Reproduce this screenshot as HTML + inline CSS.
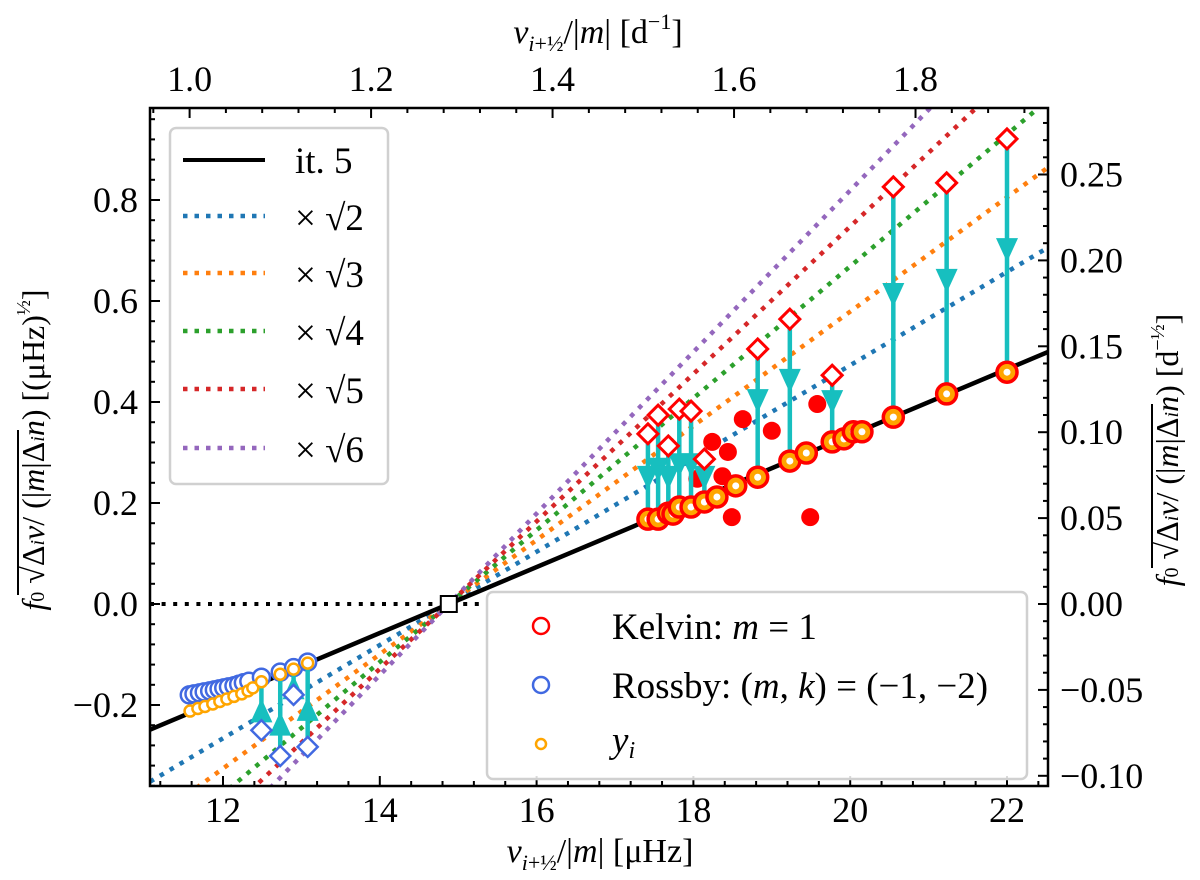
<!DOCTYPE html>
<html><head><meta charset="utf-8"><style>
html,body{margin:0;padding:0;background:#fff}
svg{display:block;font-family:"Liberation Serif",serif}
</style></head><body>
<svg id="chart" width="1200" height="880" viewBox="0 0 1200 880" xmlns="http://www.w3.org/2000/svg">
<defs><clipPath id="plotclip"><rect x="150" y="108" width="898" height="678"/></clipPath></defs>
<g id="marks" clip-path="url(#plotclip)"></g>
<g id="axes"></g>
<text x="600" y="862" font-size="34" text-anchor="middle" font-family="Liberation Serif"><tspan font-style="italic">ν</tspan><tspan font-size="22" dy="8" font-style="italic">i</tspan><tspan font-size="22">+½</tspan><tspan dy="-8">/|</tspan><tspan font-style="italic">m</tspan><tspan>| [μHz]</tspan></text>
<text x="598" y="43" font-size="34" text-anchor="middle" font-family="Liberation Serif"><tspan font-style="italic">ν</tspan><tspan font-size="22" dy="8" font-style="italic">i</tspan><tspan font-size="22">+½</tspan><tspan dy="-8">/|</tspan><tspan font-style="italic">m</tspan><tspan>| [d</tspan><tspan font-size="22" dy="-14">−1</tspan><tspan dy="14">]</tspan></text>
<g transform="translate(44,450) rotate(-90)">
<text x="0" y="0" font-size="32" text-anchor="middle" font-family="Liberation Serif"><tspan font-style="italic">f</tspan><tspan font-size="20">0</tspan><tspan> √Δ</tspan><tspan font-size="20" font-style="italic">i</tspan><tspan font-style="italic">ν</tspan><tspan>/ (|</tspan><tspan font-style="italic">m</tspan><tspan>|Δ</tspan><tspan font-size="20" font-style="italic">i</tspan><tspan font-style="italic">n</tspan><tspan>) [(μHz)</tspan><tspan font-size="20" dy="-14">½</tspan><tspan dy="14">]</tspan></text>
<line x1="-145" y1="-26" x2="20" y2="-26" stroke="#000" stroke-width="2"/>
</g>
<g transform="translate(1178,450) rotate(-90)">
<text x="0" y="0" font-size="32" text-anchor="middle" font-family="Liberation Serif"><tspan font-style="italic">f</tspan><tspan font-size="20">0</tspan><tspan> √Δ</tspan><tspan font-size="20" font-style="italic">i</tspan><tspan font-style="italic">ν</tspan><tspan>/ (|</tspan><tspan font-style="italic">m</tspan><tspan>|Δ</tspan><tspan font-size="20" font-style="italic">i</tspan><tspan font-style="italic">n</tspan><tspan>) [d</tspan><tspan font-size="20" dy="-14">−½</tspan><tspan dy="14">]</tspan></text>
<line x1="-118" y1="-26" x2="46" y2="-26" stroke="#000" stroke-width="2"/>
</g>
<g font-family="Liberation Serif" font-size="37">
<rect x="170" y="128" width="218" height="356" rx="6" fill="#fff" fill-opacity="0.85" stroke="#d0d0d0" stroke-width="2.5"/>
<g><line x1="183" y1="160" x2="265" y2="160" stroke="#000" stroke-width="4"/><text x="295" y="173">it. 5</text></g>
<g><line x1="183" y1="216" x2="265" y2="216" stroke="#1f77b4" stroke-width="4.5" stroke-dasharray="4.5 7"/><text x="295" y="230">× √2</text></g>
<g><line x1="183" y1="273" x2="265" y2="273" stroke="#ff7f0e" stroke-width="4.5" stroke-dasharray="4.5 7"/><text x="295" y="287">× √3</text></g>
<g><line x1="183" y1="331" x2="265" y2="331" stroke="#2ca02c" stroke-width="4.5" stroke-dasharray="4.5 7"/><text x="295" y="345">× √4</text></g>
<g><line x1="183" y1="389" x2="265" y2="389" stroke="#d62728" stroke-width="4.5" stroke-dasharray="4.5 7"/><text x="295" y="403">× √5</text></g>
<g><line x1="183" y1="448" x2="265" y2="448" stroke="#9467bd" stroke-width="4.5" stroke-dasharray="4.5 7"/><text x="295" y="462">× √6</text></g>
</g>
<g font-family="Liberation Serif" font-size="37">
<rect x="487" y="592" width="540" height="187" rx="6" fill="#fff" fill-opacity="0.85" stroke="#d0d0d0" stroke-width="2.5"/>
<g><circle cx="541" cy="626" r="8" fill="#fff" stroke="#ff0000" stroke-width="2.5"/><text x="612" y="639">Kelvin: <tspan font-style="italic">m</tspan> = 1</text></g>
<g><circle cx="541" cy="685" r="8" fill="#fff" stroke="#4169e1" stroke-width="2.5"/><text x="612" y="698">Rossby: (<tspan font-style="italic">m</tspan>, <tspan font-style="italic">k</tspan>) = (−1, −2)</text></g>
<g><circle cx="541" cy="744" r="5" fill="#fff" stroke="#ffa500" stroke-width="2.5"/><text x="612" y="752" font-style="italic">y<tspan font-size="24" dy="6">i</tspan></text></g>
</g>
</svg>
<script>
const lineSlope = 0.0653;
const pivotX = 14.88;
const scaleFactors = [2, 3, 4, 5, 6];
const scaleColors = ["#1f77b4", "#ff7f0e", "#2ca02c", "#d62728", "#9467bd"];
const kelvinX = [17.42,17.55,17.68,17.74,17.82,17.97,18.14,18.30,18.54,18.82,19.23,19.44,19.77,19.92,20.04,20.15,20.55,21.23,22.00];
const kelvinY = [0.168,0.168,0.180,0.178,0.192,0.192,0.202,0.212,0.234,0.251,0.283,0.299,0.321,0.327,0.341,0.341,0.370,0.416,0.459];
const kArrowX = [17.42,17.55,17.68,17.82,17.97,18.14,18.82,19.23,19.77,20.55,21.23,22.00];
const kArrowBase = [0.168,0.168,0.180,0.192,0.192,0.202,0.251,0.283,0.321,0.370,0.416,0.459];
const kDiamondY = [0.337,0.374,0.313,0.386,0.382,0.287,0.505,0.564,0.453,0.826,0.834,0.921];
const kArrowTip = [0.226,0.242,0.226,0.251,0.251,0.226,0.378,0.418,0.376,0.588,0.616,0.677];
const filledX = [18.63,19.00,18.24,18.44,18.05,18.37,18.49,19.49,19.58];
const filledY = [0.366,0.343,0.321,0.301,0.248,0.253,0.172,0.172,0.396];
const rossbyX = [11.57,11.63,11.70,11.76,11.83,11.89,11.95,12.01,12.07,12.14,12.20,12.26,12.33,12.49,12.73,12.90,13.08];
const rossbyY = [-0.180,-0.178,-0.176,-0.174,-0.172,-0.170,-0.168,-0.166,-0.164,-0.162,-0.159,-0.156,-0.153,-0.145,-0.135,-0.126,-0.115];
const yiLeftX = [11.58,11.68,11.77,11.87,11.96,12.05,12.14,12.24,12.32,12.38,12.49,12.73,12.90,13.08];
const yiLeftY = [-0.212,-0.207,-0.203,-0.198,-0.193,-0.188,-0.183,-0.178,-0.172,-0.166,-0.154,-0.139,-0.129,-0.117];
const rArrowX = [12.49,12.73,12.90,13.08];
const rArrowBase = [-0.154,-0.139,-0.129,-0.117];
const rDiamondY = [-0.250,-0.301,-0.180,-0.283];
const rArrowTip = [-0.187,-0.213,-0.141,-0.184];
const bottomTicks = [12,14,16,18,20,22];
const topTicks = ["1.0","1.2","1.4","1.6","1.8"];
const leftTicks = ["−0.2","0.0","0.2","0.4","0.6","0.8"];
const rightTicks = ["−0.10","−0.05","0.00","0.05","0.10","0.15","0.20","0.25"];

const X0=150,X1=1048,Y0=108,Y1=786;
const X = v => 223 + (v-12)*78.4;
const Y = v => 604 - v*505;
const DAY = 11.574, RT = 3.402;
const NS="http://www.w3.org/2000/svg";
function mk(parent, tag, attrs){const e=document.createElementNS(NS,tag);for(const k in attrs)e.setAttribute(k,attrs[k]);parent.appendChild(e);return e;}
const marks=document.getElementById('marks');
const axes=document.getElementById('axes');
const xmin=(X0-223)/78.4+12, xmax=(X1-223)/78.4+12;

let z=mk(marks,'line',{x1:X0,y1:Y(0),x2:X(15.35),y2:Y(0),stroke:'#000','stroke-width':4,'stroke-dasharray':'4 7.6'});



scaleFactors.forEach((k,i)=>{
  const s=Math.sqrt(k)*lineSlope;
  const l=mk(marks,'line',{x1:X(xmin),y1:Y(s*(xmin-pivotX)),x2:X(xmax),y2:Y(s*(xmax-pivotX)),stroke:scaleColors[i],'stroke-width':4.5,'stroke-dasharray':'4.5 7'});
  
  
});
const bl=mk(marks,'line',{x1:X(xmin),y1:Y(lineSlope*(xmin-pivotX)),x2:X(xmax),y2:Y(lineSlope*(xmax-pivotX)),stroke:'#000','stroke-width':4.5});



function arrow(x,base,tip,top,up){
  const g=mk(marks,'g',{});
  
  
  mk(g,'line',{x1:X(x),y1:Y(base),x2:X(x),y2:Y(top),stroke:'#17bfbf','stroke-width':4.5});
  const px=X(x),ty=Y(tip),h=up?24:-24;
  mk(g,'polygon',{points:`${px},${ty} ${px-11},${ty+h} ${px+11},${ty+h}`,fill:'#17bfbf'});
}
filledX.forEach((x,i)=>{const c=mk(marks,'circle',{cx:X(x),cy:Y(filledY[i]),r:9,fill:'#ff0000'});
  
  });
kArrowX.forEach((x,i)=>arrow(x,kArrowBase[i],kArrowTip[i],kDiamondY[i],false));
kArrowX.forEach((x,i)=>{const px=X(x),py=Y(kDiamondY[i]);
  const d=mk(marks,'polygon',{points:`${px},${py-10} ${px+10},${py} ${px},${py+10} ${px-10},${py}`,fill:'#fff',stroke:'#ff0000','stroke-width':3});
  
  });
kelvinX.forEach((x,i)=>{const g=mk(marks,'g',{});
  
  
  mk(g,'circle',{cx:X(x),cy:Y(kelvinY[i]),r:10,fill:'#ffa500',stroke:'#ff0000','stroke-width':3.5});
  mk(g,'circle',{cx:X(x),cy:Y(kelvinY[i]),r:3.5,fill:'#fff'});});
rossbyX.forEach((x,i)=>{const c=mk(marks,'circle',{cx:X(x),cy:Y(rossbyY[i]),r:8.5,fill:'#fff',stroke:'#4169e1','stroke-width':2.5});
  
  });
rArrowX.forEach((x,i)=>arrow(x,rArrowBase[i],rArrowTip[i],rDiamondY[i],true));
rArrowX.forEach((x,i)=>{const px=X(x),py=Y(rDiamondY[i]);
  const d=mk(marks,'polygon',{points:`${px},${py-10} ${px+10},${py} ${px},${py+10} ${px-10},${py}`,fill:'#fff',stroke:'#4169e1','stroke-width':2.5});
  
  });
yiLeftX.forEach((x,i)=>{const c=mk(marks,'circle',{cx:X(x),cy:Y(yiLeftY[i]),r:5.5,fill:'#fff',stroke:'#ffa500','stroke-width':2.5});
  
  });
const sq=mk(marks,'rect',{x:X(pivotX)-8,y:Y(0)-8,width:16,height:16,fill:'#fff',stroke:'#000','stroke-width':2});



function tk(x1,y1,x2,y2){mk(axes,'line',{x1,y1,x2,y2,stroke:'#000','stroke-width':2});}
function label(txt,x,y,anchor,name){const t=mk(axes,'text',{x,y,'font-size':36,'text-anchor':anchor,fill:'#000'});t.textContent=txt;
  
  }
for(let v=11.2;v<=22.5;v+=0.4){const px=X(v);const maj=Math.abs(v/2-Math.round(v/2))<0.01;tk(px,Y1,px,Y1-(maj?10:5));}
bottomTicks.forEach(v=>label(String(v),X(v),822,'middle','x-tick-label'));
for(let d=0.96;d<=1.95;d+=0.04){const px=X(d*DAY);if(px<X0||px>X1)continue;const maj=Math.abs(d*5-Math.round(d*5))<0.01;tk(px,Y0,px,Y0+(maj?10:5));}
topTicks.forEach(s=>label(s,X(parseFloat(s)*DAY),91,'middle','top-tick-label'));
for(let v=-0.36;v<=1.0;v+=0.04){const py=Y(v);if(py<Y0||py>Y1)continue;const maj=Math.abs(v*5-Math.round(v*5))<0.01;tk(X0,py,X0+(maj?10:5),py);}
leftTicks.forEach(s=>label(s,138,Y(parseFloat(s.replace('−','-')))+12,'end','y-tick-label'));
for(let r=-0.10;r<=0.29;r+=0.01){const py=Y(r*RT);if(py<Y0||py>Y1)continue;const maj=Math.abs(r*20-Math.round(r*20))<0.01;tk(X1,py,X1-(maj?10:5),py);}
rightTicks.forEach(s=>label(s,1060,Y(parseFloat(s.replace('−','-'))*RT)+12,'start','right-tick-label'));
const fr=mk(axes,'rect',{x:X0,y:Y0,width:X1-X0,height:Y1-Y0,fill:'none',stroke:'#000','stroke-width':2.5});


</script>
</body></html>
